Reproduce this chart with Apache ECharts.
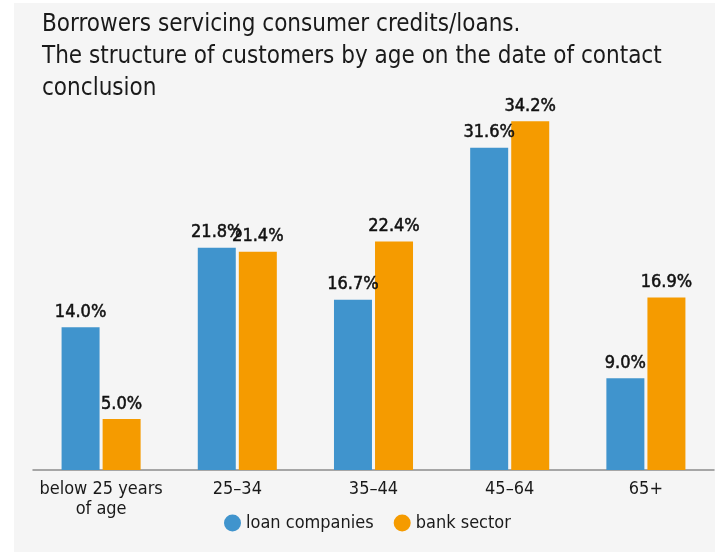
<!DOCTYPE html>
<html><head><meta charset="utf-8">
<script src="https://cdn.jsdelivr.net/npm/echarts@6/dist/echarts.min.js"></script>
<style>html,body{margin:0;padding:0;background:#fff}#c{width:715px;height:552px}</style>
</head><body><div id="c"></div>
<script>
const categories = ['below 25 years\nof age', '25–34', '35–44', '45–64', '65+'];
const loanCompanies = [14.0, 21.8, 16.7, 31.6, 9.0];
const bankSector = [5.0, 21.4, 22.4, 34.2, 16.9];
const seriesNames = ['loan companies', 'bank sector'];
const titleText = 'Borrowers servicing consumer credits/loans.\nThe structure of customers by age on the date of contact\nconclusion';

const FONT = '"Liberation Sans Narrow", "DejaVu Sans Condensed", Roboto';
const chart = echarts.init(document.getElementById('c'), null, {renderer: 'canvas'});
const labelCfg = {show: true, position: 'top', distance: 6, color: '#111111', fontFamily: FONT, fontSize: 18, fontWeight: 'normal',
  textBorderColor: '#111111', textBorderWidth: 0.5,
  formatter: p => p.value.toFixed(1) + '%'};
chart.setOption({
  backgroundColor: '#ffffff',
  animation: false,
  graphic: [{type: 'rect', shape: {x: 14, y: 3, width: 701, height: 549}, style: {fill: '#f5f5f5'}, z: -10}],
  title: {text: titleText, left: 42, top: 9, padding: 0, textStyle: {fontFamily: FONT, fontSize: 24, fontWeight: 'normal', color: '#1a1a1a', lineHeight: 32}},
  legend: {bottom: 20, left: 224, itemWidth: 17, itemHeight: 17, itemGap: 20, icon: 'circle', padding: 0,
    textStyle: {fontFamily: FONT, fontSize: 18, color: '#1a1a1a'}, data: seriesNames},
  grid: {left: 33, right: 1, top: 62, bottom: 82},
  xAxis: {type: 'category', data: categories,
    axisLine: {lineStyle: {color: '#8c8c8c', width: 1.5}}, axisTick: {show: false},
    axisLabel: {interval: 0, fontFamily: FONT, fontSize: 18, color: '#1a1a1a', margin: 9, lineHeight: 20}},
  yAxis: {type: 'value', min: 0, max: 40, show: false, splitLine: {show: false}},
  series: [
    {name: seriesNames[0], type: 'bar', data: loanCompanies, barWidth: 38, barGap: '8%', itemStyle: {color: '#4094cd'}, label: labelCfg},
    {name: seriesNames[1], type: 'bar', data: bankSector, barWidth: 38, itemStyle: {color: '#f59b00'}, label: labelCfg}
  ]
});
</script></body></html>
